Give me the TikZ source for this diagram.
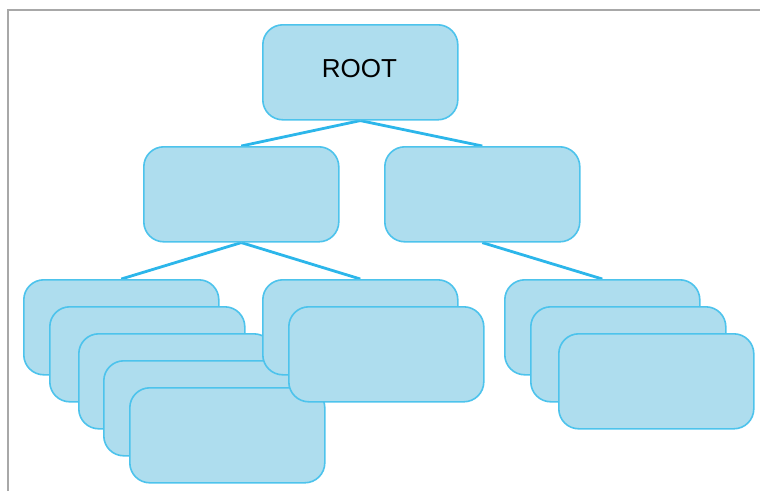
\documentclass[tikz,border=0pt]{standalone}
\usepackage{fontspec}
\setmainfont{Liberation Sans}
\usetikzlibrary{backgrounds}
\definecolor{boxfill}{HTML}{AEDDEE}
\definecolor{boxline}{HTML}{4DC3EC}
\definecolor{link}{HTML}{2CB6EA}
\definecolor{frame}{HTML}{A8A8A8}
\begin{document}
\begin{tikzpicture}[x=1pt,y=-1pt,
  card/.style={draw=boxline, fill=boxfill, line width=1.6pt, rounded corners=20pt,
    minimum width=195pt, minimum height=95pt, inner sep=0pt, anchor=north west},
  link/.style={draw=link, line width=2.8pt}]
  \useasboundingbox (0,0) rectangle (760,491);
  % outer frame (top and left edges visible)
  \draw[frame, line width=1.5pt] (8,491) -- (8,10) -- (760,10);

  % root and second level
  \node[card] (root) at (262,24) {};
  \node[font=\fontsize{26}{30}\selectfont] (rootlabel) at (359.5,69) {ROOT};
  \node[card] (l2a) at (143,146) {};
  \node[card] (l2b) at (384,146) {};

  % third level, stacked groups
  \node[card] (a1) at (23,279) {};
  \node[card] (a2) at (49,306) {};
  \node[card] (a3) at (78,333) {};
  \node[card] (a4) at (103,360) {};
  \node[card] (a5) at (129,387) {};

  \node[card] (b1) at (262,279) {};
  \node[card] (b2) at (288,306) {};

  \node[card] (c1) at (504,279) {};
  \node[card] (c2) at (530,306) {};
  \node[card] (c3) at (558,333) {};

  % connectors, kept behind the boxes
  \begin{scope}[on background layer]
    \draw[link] (root.south) -- (l2a.north);
    \draw[link] (root.south) -- (l2b.north);
    \draw[link] (l2a.south) -- (a1.north);
    \draw[link] (l2a.south) -- (b1.north);
    \draw[link] (l2b.south) -- (c1.north);
  \end{scope}
\end{tikzpicture}
\end{document}
